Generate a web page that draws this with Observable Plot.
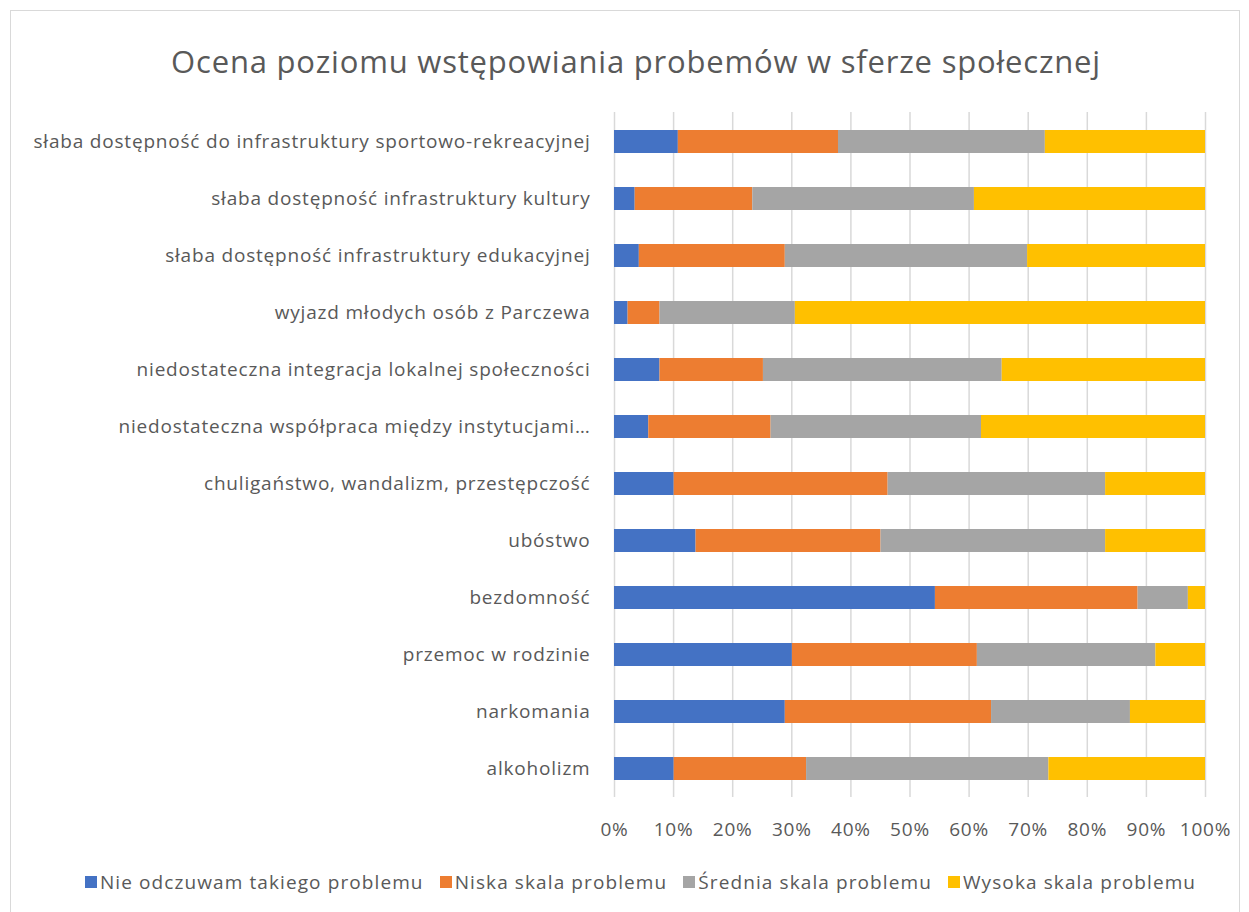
<!DOCTYPE html>
<html><head><meta charset="utf-8">
<script src="https://cdn.jsdelivr.net/npm/d3@7"></script>
<script src="https://cdn.jsdelivr.net/npm/@observablehq/plot@0.6"></script>
<style>
body{margin:0;background:#fff;font-family:"Open Sans", sans-serif;}
#frame{position:absolute;left:10px;top:10px;width:1230px;height:910px;border:1.5px solid #d9d9d9;box-sizing:border-box}
#title{position:absolute;left:0;top:42px;width:1272px;text-align:center;font-size:31px;letter-spacing:0.8px;color:#595959;line-height:38px}
#chart{position:absolute;left:0;top:95px}
#legend{position:absolute;top:870px;left:0;width:1281px;display:flex;justify-content:center;gap:16px;font-size:19px;letter-spacing:1.1px;color:#595959;line-height:24px}
.item{display:flex;align-items:center;gap:3px}
.sw{width:12px;height:12px;display:inline-block}
</style></head>
<body>
<div id="frame"></div>
<div id="title">Ocena poziomu wstępowiania probemów w sferze społecznej</div>
<div id="chart"></div>
<div id="legend"></div>
<script>
const categories = [
  "słaba dostępność do infrastruktury sportowo-rekreacyjnej",
  "słaba dostępność infrastruktury kultury",
  "słaba dostępność infrastruktury edukacyjnej",
  "wyjazd młodych osób z Parczewa",
  "niedostateczna integracja lokalnej społeczności",
  "niedostateczna współpraca między instytucjami…",
  "chuligaństwo, wandalizm, przestępczość",
  "ubóstwo",
  "bezdomność",
  "przemoc w rodzinie",
  "narkomania",
  "alkoholizm"
];
const seriesNames = ["Nie odczuwam takiego problemu", "Niska skala problemu", "Średnia skala problemu", "Wysoka skala problemu"];
const seriesColors = ["#4472C4", "#ED7D31", "#A5A5A5", "#FFC000"];
const nieOdczuwam = [10.8, 3.5, 4.2, 2.3, 7.7, 5.8, 10.1, 13.8, 54.3, 30.1, 28.9, 10.1];
const niska       = [27.1, 19.9, 24.7, 5.4, 17.5, 20.7, 36.2, 31.3, 34.3, 31.3, 34.9, 22.4];
const srednia     = [35.0, 37.5, 41.0, 22.9, 40.4, 35.6, 36.8, 38.0, 8.5, 30.2, 23.5, 41.0];
const wysoka      = [27.1, 39.1, 30.1, 69.4, 34.4, 37.9, 16.9, 16.9, 2.9, 8.4, 12.7, 26.5];
const xTicks = [0,10,20,30,40,50,60,70,80,90,100];

const seriesValues = [nieOdczuwam, niska, srednia, wysoka];
const data = [];
seriesNames.forEach((s, i) => categories.forEach((c, j) => data.push({category: c, series: s, value: seriesValues[i][j]})));

const chart = Plot.plot({
  width: 1249,
  height: 752,
  marginLeft: 614,
  marginRight: 44,
  marginTop: 17,
  marginBottom: 50,
  style: {fontSize: "19px", fontFamily: "'Open Sans', sans-serif", color: "#595959", background: "transparent", overflow: "visible", letterSpacing: "0.8px"},
  x: {domain: [0, 100]},
  y: {domain: categories, paddingInner: 0.6, paddingOuter: 0.3},
  color: {domain: seriesNames, range: seriesColors},
  marks: [
    Plot.ruleX(xTicks, {stroke: "#d9d9d9", strokeWidth: 1.5}),
    Plot.barX(data, Plot.stackX({x: "value", y: "category", fill: "series", order: seriesNames})),
    Plot.axisX({ticks: xTicks, tickFormat: d => d + "%", tickSize: 0, tickPadding: 25, fontSize: 19, label: null}),
    Plot.axisY({tickSize: 0, tickPadding: 24, fontSize: 19, label: null})
  ]
});
document.getElementById("chart").appendChild(chart);

const legend = document.getElementById("legend");
seriesNames.forEach((s, i) => {
  const it = document.createElement("div");
  it.className = "item";
  it.innerHTML = `<span class="sw" style="background:${seriesColors[i]}"></span><span>${s}</span>`;
  legend.appendChild(it);
});
</script>
</body></html>
